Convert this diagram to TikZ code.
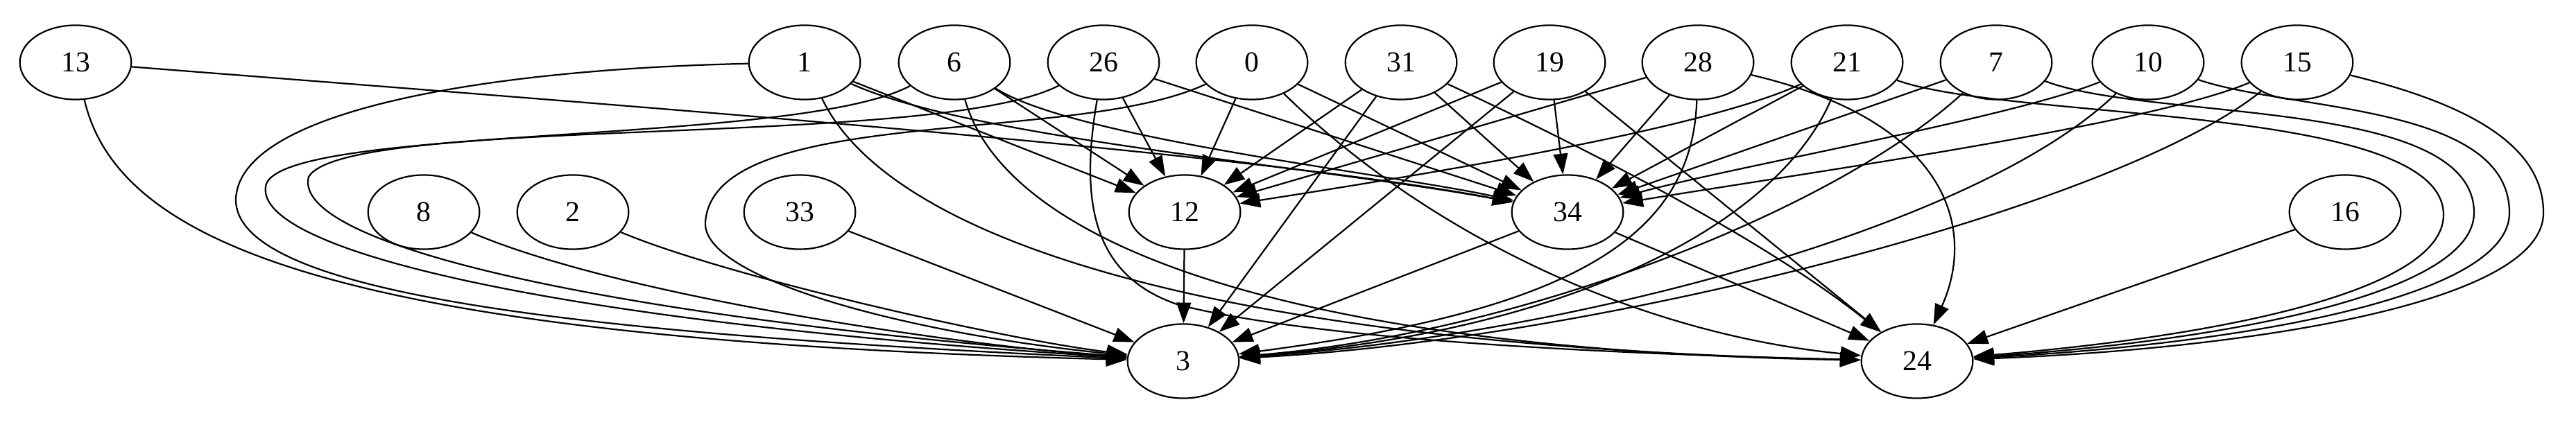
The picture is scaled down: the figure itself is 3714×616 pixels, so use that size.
\documentclass[tikz,border=0pt]{standalone}
\usepackage{fontspec}
\setmainfont{Liberation Serif}
\usetikzlibrary{shapes.geometric,arrows.meta}

\begin{document}
\begin{tikzpicture}[x=0.336pt,y=-0.336pt,
  vert/.style={draw,ellipse,line width=0.75pt,minimum width=54pt,minimum height=36pt,inner sep=0pt,font=\fontsize{14}{16}\selectfont},
  edge/.style={line width=0.75pt,-{Triangle[length=10pt,width=7pt]}}]
\useasboundingbox (0,0) rectangle (3714,616);

%%%%%DRAW NODES%%%%%%%%%
\node[vert] (n13) at (109,90) {13};
\node[vert] (n1) at (1160,90) {1};
\node[vert] (n6) at (1376,90) {6};
\node[vert] (n26) at (1591,90) {26};
\node[vert] (n0) at (1805,90) {0};
\node[vert] (n31) at (2020,90) {31};
\node[vert] (n19) at (2234,90) {19};
\node[vert] (n28) at (2448,90) {28};
\node[vert] (n21) at (2663,90) {21};
\node[vert] (n7) at (2878,90) {7};
\node[vert] (n10) at (3097,90) {10};
\node[vert] (n15) at (3312,90) {15};

\node[vert] (n8) at (611,306) {8};
\node[vert] (n2) at (826,306) {2};
\node[vert] (n33) at (1153,306) {33};
\node[vert] (n12) at (1708,306) {12};
\node[vert] (n34) at (2260,306) {34};
\node[vert] (n16) at (3381,306) {16};

\node[vert] (n3) at (1706,521) {3};
\node[vert] (n24) at (2764,521) {24};

%%%%%EDGES INTO 3%%%%%%%
\draw[edge] (n13) .. controls (170,350) and (480,490) .. (n3);
\draw[edge] (n1) .. controls (700,100) and (340,160) .. (340,290) .. controls (345,420) and (800,480) .. (n3);
\draw[edge] (n6) .. controls (1150,210) and (420,180) .. (384,265) .. controls (355,360) and (800,465) .. (n3);
\draw[edge] (n26) .. controls (1350,215) and (500,165) .. (445,255) .. controls (420,350) and (850,455) .. (n3);
\draw[edge] (n0) .. controls (1550,210) and (1030,150) .. (1017,320) .. controls (1010,400) and (1300,480) .. (n3);
\draw[edge] (n8) .. controls (900,430) and (1400,500) .. (n3);
\draw[edge] (n2) .. controls (1050,400) and (1450,490) .. (n3);
\draw[edge] (n33) -- (n3);
\draw[edge] (n12) -- (n3);
\draw[edge] (n31) -- (n3);
\draw[edge] (n19) -- (n3);
\draw[edge] (n34) -- (n3);
\draw[edge] (n28) .. controls (2440,350) and (2250,450) .. (n3);
\draw[edge] (n21) .. controls (2560,330) and (2250,480) .. (n3);
\draw[edge] (n7) .. controls (2650,300) and (2200,480) .. (n3);
\draw[edge] (n10) .. controls (2850,330) and (2250,485) .. (n3);
\draw[edge] (n15) .. controls (3050,300) and (2300,490) .. (n3);

%%%%%EDGES INTO 12%%%%%%%
\draw[edge] (n1) -- (n12);
\draw[edge] (n6) -- (n12);
\draw[edge] (n26) -- (n12);
\draw[edge] (n0) -- (n12);
\draw[edge] (n31) -- (n12);
\draw[edge] (n19) -- (n12);
\draw[edge] (n28) -- (n12);
\draw[edge] (n21) .. controls (2450,190) and (2000,260) .. (n12);

%%%%%EDGES INTO 34%%%%%%%
\draw[edge] (n13) .. controls (1000,160) and (1800,220) .. (n34);
\draw[edge] (n1) .. controls (1400,200) and (1900,240) .. (n34);
\draw[edge] (n6) .. controls (1550,200) and (2000,250) .. (n34);
\draw[edge] (n26) -- (n34);
\draw[edge] (n0) -- (n34);
\draw[edge] (n31) -- (n34);
\draw[edge] (n19) -- (n34);
\draw[edge] (n28) -- (n34);
\draw[edge] (n21) -- (n34);
\draw[edge] (n7) -- (n34);
\draw[edge] (n10) .. controls (2900,170) and (2500,240) .. (n34);
\draw[edge] (n15) .. controls (3100,180) and (2600,250) .. (n34);

%%%%%EDGES INTO 24%%%%%%%
\draw[edge] (n1) .. controls (1290,360) and (1800,500) .. (n24);
\draw[edge] (n6) .. controls (1450,350) and (1850,505) .. (n24);
\draw[edge] (n26) .. controls (1555,300) and (1580,400) .. (1700,440) .. controls (1900,490) and (2300,510) .. (n24);
\draw[edge] (n0) .. controls (2050,330) and (2350,480) .. (n24);
\draw[edge] (n31) .. controls (2300,220) and (2550,350) .. (n24);
\draw[edge] (n19) -- (n24);
\draw[edge] (n28) .. controls (2810,175) and (2850,330) .. (n24);
\draw[edge] (n34) -- (n24);
\draw[edge] (n16) -- (n24);
\draw[edge] (n21) .. controls (2900,175) and (3523,150) .. (3523,310) .. controls (3523,420) and (3200,485) .. (n24);
\draw[edge] (n7) .. controls (3100,175) and (3567,140) .. (3567,307) .. controls (3567,425) and (3200,492) .. (n24);
\draw[edge] (n10) .. controls (3300,160) and (3618,150) .. (3618,307) .. controls (3618,435) and (3200,498) .. (n24);
\draw[edge] (n15) .. controls (3560,150) and (3667,210) .. (3667,307) .. controls (3667,445) and (3200,505) .. (n24);

\end{tikzpicture}
\end{document}
